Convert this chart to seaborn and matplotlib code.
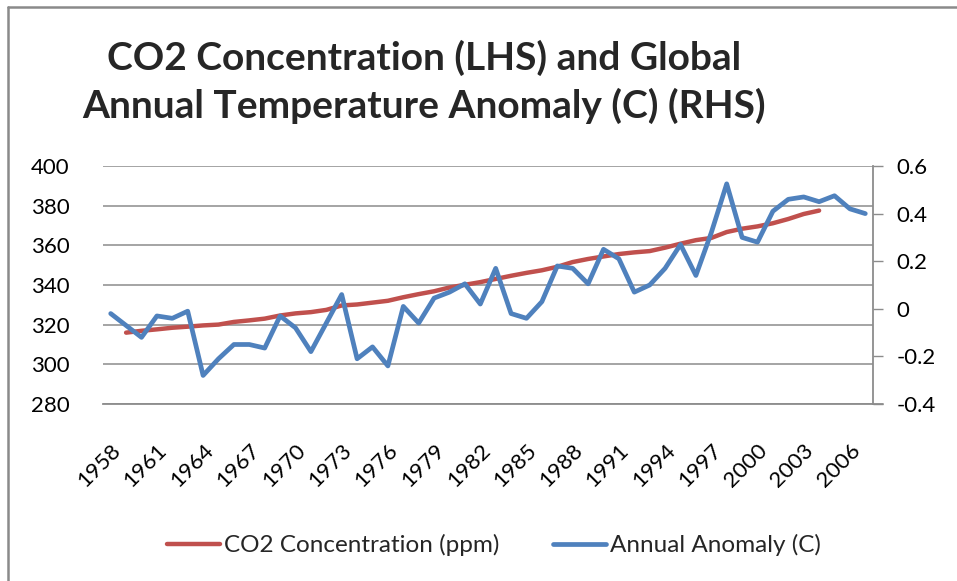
import matplotlib
matplotlib.use("Agg")
import matplotlib.pyplot as plt
import matplotlib.transforms as mtransforms
import seaborn as sns
import numpy as np
import pandas as pd
from matplotlib.lines import Line2D

# ---- data ----
co2_years = list(range(1959, 2005))
co2_ppm = [315.97, 316.91, 317.64, 318.45, 318.99, 319.62, 320.04, 321.38, 322.16, 323.04,
           324.62, 325.68, 326.32, 327.45, 329.68, 330.18, 331.11, 332.04, 333.83, 335.40,
           336.84, 338.75, 340.11, 341.45, 343.05, 344.65, 346.12, 347.42, 349.19, 351.57,
           353.12, 354.39, 355.61, 356.45, 357.10, 358.83, 360.82, 362.61, 363.73, 366.70,
           368.38, 369.55, 371.14, 373.28, 375.80, 377.52]
temp_years = list(range(1958, 2008))
temp_anom = [-0.02, -0.07, -0.12, -0.03, -0.04, -0.01, -0.28, -0.21, -0.15, -0.15,
             -0.165, -0.03, -0.08, -0.18, -0.06, 0.06, -0.21, -0.16, -0.24, 0.01,
             -0.06, 0.045, 0.07, 0.105, 0.02, 0.17, -0.02, -0.04, 0.03, 0.18,
             0.17, 0.105, 0.25, 0.21, 0.07, 0.10, 0.17, 0.27, 0.14, 0.32,
             0.525, 0.30, 0.28, 0.41, 0.46, 0.47, 0.45, 0.475, 0.42, 0.40]
xtick_years = list(range(1958, 2007, 3))
left_ticks = [280, 300, 320, 340, 360, 380, 400]
right_ticks = [-0.4, -0.2, 0, 0.2, 0.4, 0.6]
right_labels = ["-0.4", "-0.2", "0", "0.2", "0.4", "0.6"]
title_lines = ["CO2 Concentration (LHS) and Global", "Annual Temperature Anomaly (C) (RHS)"]
co2_label = "CO2 Concentration (ppm)"
temp_label = "Annual Anomaly (C)"

sns.set_style("white")
plt.rcParams['font.family'] = ['Lato', 'DejaVu Sans']

RED = "#C0504D"
BLUE = "#4F81BD"
GRID = "#8C8C8C"

fig = plt.figure(figsize=(9.57, 5.81), dpi=100)
W, H = 957, 581
ax = fig.add_axes([103 / W, 1 - 404 / H, (873 - 103) / W, (404 - 166) / H])
ax2 = ax.twinx()

df_co2 = pd.DataFrame({"year": co2_years, "ppm": co2_ppm})
df_t = pd.DataFrame({"year": temp_years, "anom": temp_anom})

sns.lineplot(data=df_co2, x="year", y="ppm", ax=ax, color=RED, linewidth=3.2,
             solid_capstyle="round", label=co2_label, legend=False)
sns.lineplot(data=df_t, x="year", y="anom", ax=ax2, color=BLUE, linewidth=3.4,
             solid_capstyle="round", label=temp_label, legend=False)

ax.set_xlim(1957.5, 2007.5)
ax.set_ylim(280, 400)
ax2.set_ylim(-0.4, 0.6)
ax.set_yticks(left_ticks)
ax.set_yticklabels([str(v) for v in left_ticks])
ax2.set_yticks(right_ticks)
ax2.set_yticklabels(right_labels)

ax.set_xticks(xtick_years)
ax.set_xticklabels([str(y) for y in xtick_years], rotation=45, ha="right",
                   va="center", rotation_mode="anchor")
ax.tick_params(axis="x", length=0, pad=31, labelsize=16, colors="black")
ax.tick_params(axis="y", length=0, pad=24, labelsize=16, colors="black")
ax2.tick_params(axis="y", length=7, width=1, color=GRID, pad=10, labelsize=16,
                colors="black")
ax2.tick_params(axis="y", colors=GRID, labelcolor="black")

shift = mtransforms.ScaledTranslation(5 / 72, 0, fig.dpi_scale_trans)
for lab in ax.get_xticklabels():
    lab.set_transform(lab.get_transform() + shift)

ax.set_xlabel("")
ax.set_ylabel("")
ax2.set_ylabel("")

ax.yaxis.grid(True, color=GRID, linewidth=1.1)
ax.xaxis.grid(False)
ax2.grid(False)

for a in (ax, ax2):
    for s in ("top", "left"):
        a.spines[s].set_visible(False)
ax.spines["right"].set_visible(False)
ax.spines["bottom"].set_color(GRID)
ax.spines["bottom"].set_linewidth(1.3)
ax2.spines["bottom"].set_visible(False)
ax2.spines["right"].set_color(GRID)
ax2.spines["right"].set_linewidth(1.3)

# bottom axis line overhang to the right (like tick)
ax.add_line(Line2D([1, 1 + 10 / 770], [0, 0], transform=ax.transAxes,
                   color=GRID, linewidth=1.3, clip_on=False))

ax2.set_zorder(ax.get_zorder() + 1)
ax2.patch.set_visible(False)

# title
fig.text(424 / W, 1 - 58 / H, title_lines[0], ha="center", va="center",
         fontsize=28, fontweight="bold")
fig.text(424 / W, 1 - 106 / H, title_lines[1], ha="center", va="center",
         fontsize=28, fontweight="bold")

# legend
handles = [Line2D([], [], color=RED, linewidth=3.2),
           Line2D([], [], color=BLUE, linewidth=3.4)]
fig.legend(handles, [co2_label, temp_label], loc="center",
           bbox_to_anchor=(494 / W, 1 - 545 / H), ncol=2, frameon=False,
           fontsize=17.5, handlelength=2.2, handletextpad=0.15, columnspacing=2.2)

# chart border (left and top visible)
fig.add_artist(Line2D([8 / W, 8 / W], [0, 1 - 7 / H], transform=fig.transFigure,
                      color="#8A8A8A", linewidth=1.8))
fig.add_artist(Line2D([8 / W, 1], [1 - 7 / H, 1 - 7 / H], transform=fig.transFigure,
                      color="#8A8A8A", linewidth=1.8))

fig.savefig("out.png", dpi=100)
